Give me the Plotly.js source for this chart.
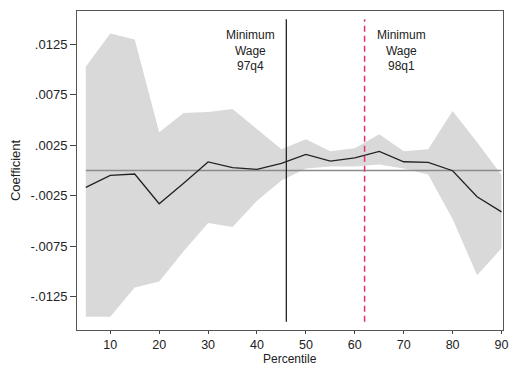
<!DOCTYPE html>
<html>
<head>
<meta charset="utf-8">
<script src="https://cdn.plot.ly/plotly-3.0.1.min.js"></script>
<style>html,body{margin:0;padding:0;background:#fff;}#chart{width:511px;height:365px;}</style>
</head>
<body>
<div id="chart"></div>
<script>
const percentiles = [5,10,15,20,25,30,35,40,45,50,55,60,65,70,75,80,85,90];
const coefficient = [-0.00167,-0.00048,-0.00035,-0.0033,-0.00127,0.00085,0.00028,0.00012,0.0007,0.0016,0.00094,0.00125,0.0019,0.00087,0.0008,-0.00002,-0.0026,-0.0041];
const upperCI = [0.0103,0.0136,0.0130,0.0038,0.0057,0.0058,0.0061,0.0041,0.0021,0.0031,0.0019,0.0022,0.0036,0.0019,0.0021,0.0059,0.0028,-0.00045];
const lowerCI = [-0.0145,-0.0145,-0.0116,-0.0110,-0.0080,-0.0052,-0.0056,-0.0030,-0.0010,0.0002,0.0004,0.0004,0.0006,0.0002,-0.0004,-0.0048,-0.0104,-0.0077];
const yTickVals = [0.0125,0.0075,0.0025,-0.0025,-0.0075,-0.0125];
const yTickText = [".0125",".0075",".0025","-.0025","-.0075","-.0125"];
const xTickVals = [10,20,30,40,50,60,70,80,90];
const events = [
  {x:46, label:"Minimum<br>Wage<br>97q4", color:"#222222", dash:"solid", shift:-36},
  {x:62, label:"Minimum<br>Wage<br>98q1", color:"#e0336b", dash:"dash", shift:37}
];

const font = "Liberation Sans, Arial, sans-serif";
const traces = [
  {x:percentiles, y:lowerCI, type:"scatter", mode:"lines", line:{width:0, color:"rgba(0,0,0,0)"}, hoverinfo:"skip", showlegend:false},
  {x:percentiles, y:upperCI, type:"scatter", mode:"lines", fill:"tonexty", fillcolor:"#d9d9d9", line:{width:0, color:"rgba(0,0,0,0)"}, hoverinfo:"skip", showlegend:false},
  {x:[5,90], y:[0,0], type:"scatter", mode:"lines", line:{color:"#8c8c8c", width:1.5}, showlegend:false},
  {x:percentiles, y:coefficient, type:"scatter", mode:"lines", line:{color:"#222222", width:1.3}, showlegend:false}
];
events.forEach(e => {
  traces.push({x:[e.x,e.x], y:[-0.0150,0.0150], type:"scatter", mode:"lines", line:{color:e.color, width:e.dash==="dash"?1.5:1.3, dash:e.dash==="dash"?"6px,4px":"solid"}, showlegend:false});
});

const annotations = events.map(e => ({
  x:e.x, xref:"x", y:0.01195, yref:"y", text:e.label, showarrow:false, xshift:e.shift,
  xanchor:"center", yanchor:"middle", align:"center",
  font:{family:font, size:12, color:"#222"}
}));
annotations.push({x:0.5, xref:"paper", y:0, yref:"paper", yshift:-37, text:"Percentile", showarrow:false, borderpad:0,
  xanchor:"center", yanchor:"bottom", font:{family:font, size:12, color:"#222"}});

const layout = {
  width:511, height:365,
  margin:{l:77, r:8, t:11, b:35},
  paper_bgcolor:"#fff", plot_bgcolor:"#fff",
  font:{family:font, size:13, color:"#222"},
  showlegend:false,
  xaxis:{range:[3.2,90.3], tickvals:xTickVals, ticks:"outside", ticklen:3, tickcolor:"#444", showgrid:false, zeroline:false, showline:true, mirror:true, linecolor:"#555", linewidth:1, tickfont:{family:font, size:12.5, color:"#222"}},
  yaxis:{range:[-0.01582,0.01582], tickvals:yTickVals, ticktext:yTickText, ticks:"outside", ticklen:6, tickcolor:"#444", showgrid:false, zeroline:false, showline:true, mirror:true, linecolor:"#555", linewidth:1, tickfont:{family:font, size:13, color:"#222"}, title:{text:"Coefficient", font:{family:font, size:13, color:"#222"}, standoff:6}},
  annotations:annotations
};
Plotly.newPlot("chart", traces, layout, {staticPlot:true, displayModeBar:false});
</script>
</body>
</html>
